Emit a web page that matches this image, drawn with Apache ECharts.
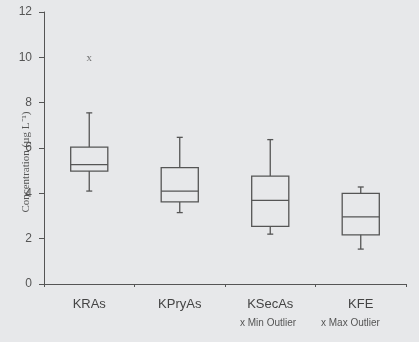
<!DOCTYPE html>
<html><head><meta charset="utf-8">
<script src="https://cdn.jsdelivr.net/npm/echarts@6/dist/echarts.min.js"></script>
<style>html,body{margin:0;padding:0;background:#e7e8ea}#c{width:419px;height:342px}</style>
</head><body><div id="c"></div>
<script>
const categories = ['KRAs', 'KPryAs', 'KSecAs', 'KFE'];
// [min, Q1, median, Q3, max]
const boxValues = [
  [4.1, 4.98, 5.27, 6.04, 7.55],
  [3.15, 3.62, 4.1, 5.13, 6.47],
  [2.2, 2.54, 3.69, 4.76, 6.37],
  [1.54, 2.17, 2.96, 4.0, 4.28]
];
const outliers = [[0, 9.95]];
const yTicks = [0, 2, 4, 6, 8, 10, 12];

const chart = echarts.init(document.getElementById('c'));
const lineColor = '#555';
chart.setOption({
  backgroundColor: '#e7e8ea',
  animation: false,
  grid: {left: 44, right: 13, top: 12, bottom: 58},
  xAxis: {
    type: 'category', data: categories,
    axisLine: {lineStyle: {color: '#555', width: 1}},
    axisTick: {show: true, length: 3, lineStyle: {color: '#555'}},
    axisLabel: {color: '#444', fontFamily: 'Liberation Sans', fontSize: 13, margin: 14}
  },
  yAxis: {
    type: 'value', min: 0, max: 12, interval: 2,
    splitLine: {show: false},
    axisLine: {show: true, lineStyle: {color: '#555'}},
    axisTick: {show: true, length: 5, lineStyle: {color: '#555'}},
    axisLabel: {color: '#555', fontFamily: 'Liberation Sans', fontSize: 12, margin: 12,
      formatter: v => yTicks.includes(v) ? String(v) : ''}
  },
  graphic: [
    {type: 'text', x: 26, y: 162, rotation: Math.PI / 2,
      style: {text: 'Concentration (µg L⁻¹)', font: '11px "Liberation Serif"', fill: '#555',
        textAlign: 'center', textVerticalAlign: 'middle'}},
    {type: 'text', left: 240, top: 318,
      style: {text: 'x Min Outlier', font: '10px "Liberation Sans"', fill: '#555'}},
    {type: 'text', left: 321, top: 318,
      style: {text: 'x Max Outlier', font: '10px "Liberation Sans"', fill: '#555'}}
  ],
  series: [
    {
      type: 'custom',
      data: boxValues.map((d, i) => [i].concat(d)),
      renderItem: function (params, api) {
        const i = api.value(0);
        const pMin = api.coord([i, api.value(1)]);
        const pQ1 = api.coord([i, api.value(2)]);
        const pMed = api.coord([i, api.value(3)]);
        const pQ3 = api.coord([i, api.value(4)]);
        const pMax = api.coord([i, api.value(5)]);
        const bw = api.size([1, 0])[0] * 0.41;
        const cx = pMed[0];
        const cap = 3;
        const st = {stroke: lineColor, lineWidth: 1.3, fill: 'none'};
        return {type: 'group', children: [
          {type: 'rect', shape: {x: cx - bw / 2, y: pQ3[1], width: bw, height: pQ1[1] - pQ3[1]}, style: st},
          {type: 'line', shape: {x1: cx - bw / 2, y1: pMed[1], x2: cx + bw / 2, y2: pMed[1]}, style: st},
          {type: 'line', shape: {x1: cx, y1: pQ3[1], x2: cx, y2: pMax[1]}, style: st},
          {type: 'line', shape: {x1: cx, y1: pQ1[1], x2: cx, y2: pMin[1]}, style: st},
          {type: 'line', shape: {x1: cx - cap, y1: pMax[1], x2: cx + cap, y2: pMax[1]}, style: st},
          {type: 'line', shape: {x1: cx - cap, y1: pMin[1], x2: cx + cap, y2: pMin[1]}, style: st}
        ]};
      }
    },
    {
      type: 'scatter', data: outliers, symbol: 'circle', symbolSize: 1,
      itemStyle: {color: 'rgba(0,0,0,0)'},
      label: {show: true, position: 'inside', formatter: 'x', color: '#555',
        fontFamily: 'Liberation Serif', fontSize: 11}
    }
  ]
});
</script></body></html>
